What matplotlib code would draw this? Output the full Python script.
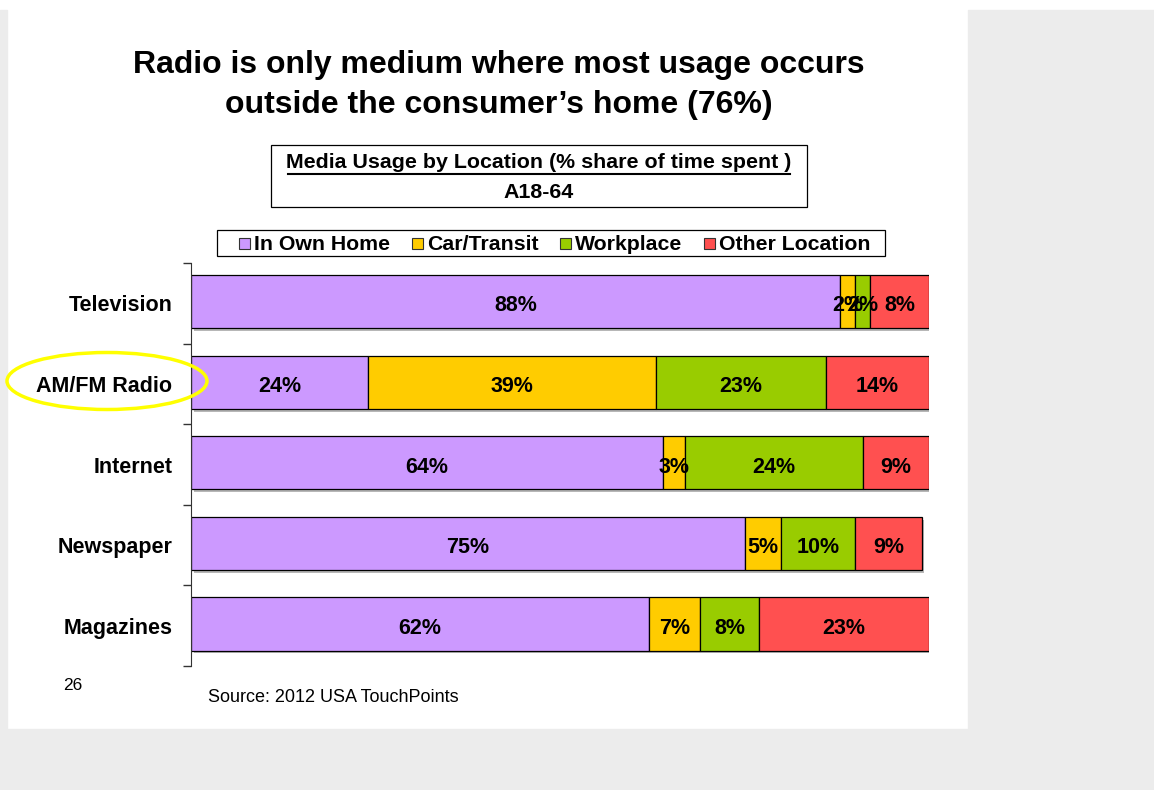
import matplotlib.pyplot as plt
from matplotlib.patches import Rectangle, Ellipse
import matplotlib.patheffects as pe

plt.rcParams['font.family'] = ['Liberation Sans', 'DejaVu Sans']

# Share of time spent by location, per medium (A18-64)
media = ['Television', 'AM/FM Radio', 'Internet', 'Newspaper', 'Magazines']
locations = ['In Own Home', 'Car/Transit', 'Workplace', 'Other Location']
in_home = [88, 24, 64, 75, 62]
car_transit = [2, 39, 3, 5, 7]
workplace = [2, 23, 24, 10, 8]
other = [8, 14, 9, 9, 23]
colors = ['#CC99FF', '#FFCC00', '#99CC00', '#FF5050']

W, H = 1154, 790
fig = plt.figure(figsize=(W / 100, H / 100), dpi=100, facecolor='white')

# grey frame around the slide
grey = '#ececec'
fig.patches.append(Rectangle((0, 0), 7 / W, 780 / H, transform=fig.transFigure, color=grey, zorder=0))
fig.patches.append(Rectangle((968 / W, 0), 1 - 968 / W, 780 / H, transform=fig.transFigure, color=grey, zorder=0))
fig.patches.append(Rectangle((0, 0), 1, 1 - 729 / H, transform=fig.transFigure, color=grey, zorder=0))

ax = fig.add_axes([191 / W, 1 - 666 / H, (929 - 191) / W, (666 - 263) / H])
ax.set_facecolor('none')

ypos = list(range(len(media)))
bar_y = [y - 0.02 for y in ypos]
series = [in_home, car_transit, workplace, other]
left = [0] * len(media)
shadow = [pe.SimplePatchShadow(offset=(2, -2), shadow_rgbFace='#888888', alpha=0.6), pe.Normal()]
for vals, col in zip(series, colors):
    bars = ax.barh(bar_y, vals, left=left, height=0.66, color=col, edgecolor='black', linewidth=0.9)
    for b in bars:
        b.set_path_effects(shadow)
    for y, v, l in zip(ypos, vals, left):
        ax.text(l + v / 2, y, f'{v}%', ha='center', va='center_baseline', fontsize=15.5, fontweight='bold')
    left = [l + v for l, v in zip(left, vals)]

ax.set_xlim(0, 100)
ax.set_ylim(len(media) - 0.5, -0.5)
ax.set_yticks([i - 0.5 for i in range(len(media) + 1)])
ax.set_yticklabels([])
ax.set_yticks(ypos, minor=True)
ax.set_yticklabels(media, minor=True, fontsize=15.5, fontweight='bold')
ax.tick_params(axis='y', which='major', length=6, width=1, color='#333333')
ax.tick_params(axis='y', which='minor', length=0, pad=13.5)
ax.set_xticks([])
for s in ['top', 'right', 'bottom']:
    ax.spines[s].set_visible(False)
ax.spines['left'].set_color('#333333')

# title
fig.text(499 / W, 1 - 61 / H, 'Radio is only medium where most usage occurs', ha='center', va='center_baseline',
         fontsize=23, fontweight='bold')
fig.text(499 / W, 1 - 101 / H, 'outside the consumer\u2019s home (76%)', ha='center', va='center_baseline',
         fontsize=23, fontweight='bold')

# subtitle box
fig.patches.append(Rectangle((271 / W, 1 - 207 / H), (807 - 271) / W, 62 / H, transform=fig.transFigure,
                             facecolor='white', edgecolor='black', linewidth=0.9))
fig.text(539 / W, 1 - 163 / H, 'Media Usage by Location (% share of time spent )', ha='center',
         va='center', fontsize=15.4, fontweight='bold')
fig.add_artist(plt.Line2D([288 / W, 790 / W], [1 - 174 / H, 1 - 174 / H], color='black', linewidth=1.5))
fig.text(539 / W, 1 - 192 / H, 'A18-64', ha='center', va='center', fontsize=15.4, fontweight='bold')

# legend
fig.patches.append(Rectangle((217 / W, 1 - 256 / H), (885 - 217) / W, 26 / H, transform=fig.transFigure,
                             facecolor='white', edgecolor='black', linewidth=0.9))
sq_x = [239, 412, 560, 704]
for x, name, col in zip(sq_x, locations, colors):
    fig.patches.append(Rectangle((x / W, 1 - 249 / H), 11 / W, 11 / H, transform=fig.transFigure,
                                 facecolor=col, edgecolor='#333333', linewidth=0.8))
    fig.text((x + 15) / W, 1 - 244 / H, name, ha='left', va='center', fontsize=15.3, fontweight='bold')

# highlight ring around radio
fig.patches.append(Ellipse((107 / W, 1 - 381 / H), 200 / W, 57 / H, transform=fig.transFigure,
                           facecolor='none', edgecolor='#ffff00', linewidth=2.5, zorder=5))

fig.text(63 / W, 1 - 685 / H, '26', ha='left', va='center', fontsize=12.5)
fig.text(208 / W, 1 - 697 / H, 'Source: 2012 USA TouchPoints', ha='left', va='center', fontsize=13)

fig.savefig('out.png', dpi=100, facecolor=fig.get_facecolor())
